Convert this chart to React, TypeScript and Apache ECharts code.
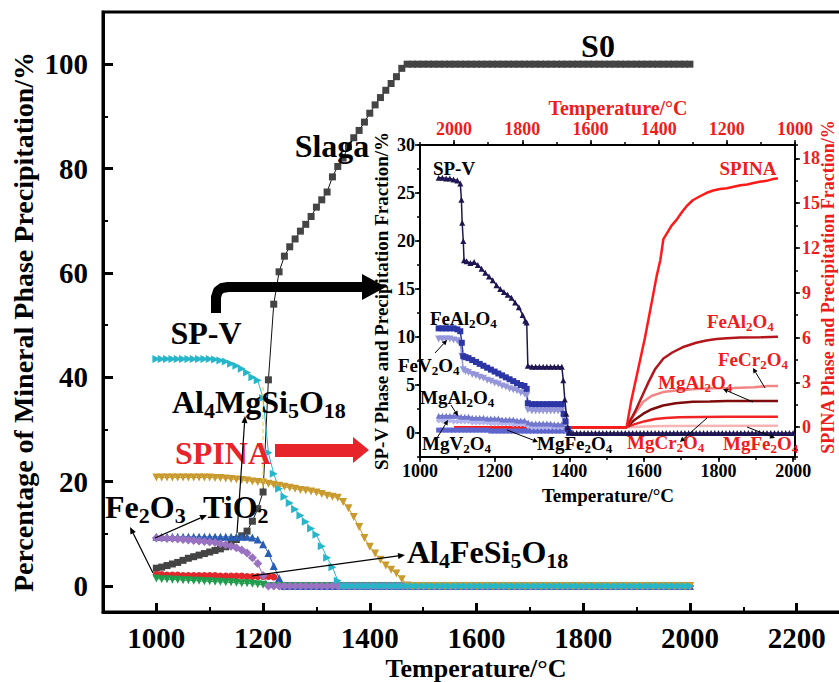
import React, { useEffect, useRef } from 'react';
import * as echarts from 'echarts';

const FONT = '"Liberation Serif", "Times New Roman", serif';
const RED = '#ee1c1c';

// ---------- main chart (bottom-left axes) ----------
const temps = [
  1000, 1010, 1020, 1030, 1040, 1050, 1060, 1070, 1080, 1090,
  1100, 1110, 1120, 1130, 1140, 1150, 1160, 1170, 1180, 1190,
  1200, 1210, 1220, 1230, 1240, 1250, 1260, 1270, 1280, 1290,
  1300, 1310, 1320, 1330, 1340, 1350, 1360, 1370, 1380, 1390,
  1400, 1410, 1420, 1430, 1440, 1450, 1460, 1470, 1480, 1490,
  1500, 1510, 1520, 1530, 1540, 1550, 1560, 1570, 1580, 1590,
  1600, 1610, 1620, 1630, 1640, 1650, 1660, 1670, 1680, 1690,
  1700, 1710, 1720, 1730, 1740, 1750, 1760, 1770, 1780, 1790,
  1800, 1810, 1820, 1830, 1840, 1850, 1860, 1870, 1880, 1890,
  1900, 1910, 1920, 1930, 1940, 1950, 1960, 1970, 1980, 1990,
  2000,
];

const slagValues = [
  3.4, 3.6, 3.9, 4.2, 4.5, 4.9, 5.3, 5.6, 5.9, 6.2,
  6.5, 6.8, 7.1, 7.5, 8.1, 8.9, 9.6, 10.5, 12.4, 14.8,
  18.0, 39.5, 54.0, 60.2, 63.2, 65.0, 66.5, 68.0, 69.3, 70.8,
  72.6, 74.0, 75.5, 78.4, 80.4, 82.0, 84.2, 85.9, 87.3, 88.9,
  90.6, 92.2, 93.6, 95.0, 96.3, 97.6, 99.2, 100, 100, 100,
  100, 100, 100, 100, 100, 100, 100, 100, 100, 100,
  100, 100, 100, 100, 100, 100, 100, 100, 100, 100,
  100, 100, 100, 100, 100, 100, 100, 100, 100, 100,
  100, 100, 100, 100, 100, 100, 100, 100, 100, 100,
  100, 100, 100, 100, 100, 100, 100, 100, 100, 100,
  100,
];

const redValues = [
  2.2, 2.2, 2.1, 2.1, 2.1, 2.0, 2.0, 2.0, 2.0, 2.0,
  2.0, 2.0, 1.9, 1.9, 1.9, 1.9, 1.9, 1.8, 1.8, 1.8,
  1.8, 1.8, 1.7, 0.6, 0, 0, 0, 0, 0, 0,
  0, 0, 0, 0, 0, 0, 0, 0, 0, 0,
  0, 0, 0, 0, 0, 0, 0, 0, 0, 0,
  0, 0, 0, 0, 0, 0, 0, 0, 0, 0,
  0, 0, 0, 0, 0, 0, 0, 0, 0, 0,
  0, 0, 0, 0, 0, 0, 0, 0, 0, 0,
  0, 0, 0, 0, 0, 0, 0, 0, 0, 0,
  0, 0, 0, 0, 0, 0, 0, 0, 0, 0,
  0,
];

const blueValues = [
  9.4, 9.4, 9.4, 9.4, 9.4, 9.4, 9.4, 9.4, 9.4, 9.4,
  9.4, 9.4, 9.4, 9.4, 9.4, 9.4, 9.4, 9.4, 9.3, 8.9,
  8.0, 6.3, 3.8, 1.5, 0, 0, 0, 0, 0, 0,
  0, 0, 0, 0, 0, 0, 0, 0, 0, 0,
  0, 0, 0, 0, 0, 0, 0, 0, 0, 0,
  0, 0, 0, 0, 0, 0, 0, 0, 0, 0,
  0, 0, 0, 0, 0, 0, 0, 0, 0, 0,
  0, 0, 0, 0, 0, 0, 0, 0, 0, 0,
  0, 0, 0, 0, 0, 0, 0, 0, 0, 0,
  0, 0, 0, 0, 0, 0, 0, 0, 0, 0,
  0,
];

const greenValues = [
  1.4, 1.3, 1.3, 1.2, 1.2, 1.1, 1.1, 1.0, 1.0, 0.9,
  0.9, 0.8, 0.8, 0.7, 0.7, 0.6, 0.5, 0.5, 0.4, 0.3,
  0.2, 0, 0, 0, 0, 0, 0, 0, 0, 0,
  0, 0, 0, 0, 0, 0, 0, 0, 0, 0,
  0, 0, 0, 0, 0, 0, 0, 0, 0, 0,
  0, 0, 0, 0, 0, 0, 0, 0, 0, 0,
  0, 0, 0, 0, 0, 0, 0, 0, 0, 0,
  0, 0, 0, 0, 0, 0, 0, 0, 0, 0,
  0, 0, 0, 0, 0, 0, 0, 0, 0, 0,
  0, 0, 0, 0, 0, 0, 0, 0, 0, 0,
  0,
];

const purpleValues = [
  9.2, 9.2, 9.1, 9.1, 9.0, 8.9, 8.8, 8.7, 8.6, 8.5,
  8.4, 8.3, 8.1, 7.9, 7.6, 7.3, 6.9, 6.3, 5.4, 4.3,
  2.0, 0, 0, 0, 0, 0, 0, 0, 0, 0,
  0, 0, 0, 0, 0, 0, 0, 0, 0, 0,
  0, 0, 0, 0, 0, 0, 0, 0, 0, 0,
  0, 0, 0, 0, 0, 0, 0, 0, 0, 0,
  0, 0, 0, 0, 0, 0, 0, 0, 0, 0,
  0, 0, 0, 0, 0, 0, 0, 0, 0, 0,
  0, 0, 0, 0, 0, 0, 0, 0, 0, 0,
  0, 0, 0, 0, 0, 0, 0, 0, 0, 0,
  0,
];

const goldValues = [
  20.8, 20.8, 20.8, 20.8, 20.8, 20.8, 20.8, 20.8, 20.8, 20.8,
  20.8, 20.7, 20.7, 20.6, 20.5, 20.4, 20.3, 20.2, 20.0, 19.9,
  19.8, 19.6, 19.4, 19.2, 19.0, 18.8, 18.6, 18.4, 18.3, 18.1,
  17.9, 17.6, 17.3, 17.1, 16.9, 16.1, 14.9, 13.2, 11.3, 9.2,
  7.5, 6.2, 5.0, 3.9, 3.1, 2.4, 1.3, 0.1, 0, 0,
  0, 0, 0, 0, 0, 0, 0, 0, 0, 0,
  0, 0, 0, 0, 0, 0, 0, 0, 0, 0,
  0, 0, 0, 0, 0, 0, 0, 0, 0, 0,
  0, 0, 0, 0, 0, 0, 0, 0, 0, 0,
  0, 0, 0, 0, 0, 0, 0, 0, 0, 0,
  0,
];

const cyanValues = [
  43.5, 43.5, 43.5, 43.5, 43.5, 43.5, 43.5, 43.5, 43.5, 43.5,
  43.5, 43.4, 43.2, 43.0, 42.6, 42.2, 41.6, 40.9, 40.0, 39.4,
  36.0, 25.5, 21.5, 18.6, 17.1, 15.9, 14.7, 13.5, 12.3, 11.0,
  9.8, 7.6, 5.4, 3.6, 1.0, 0, 0, 0, 0, 0,
  0, 0, 0, 0, 0, 0, 0, 0, 0, 0,
  0, 0, 0, 0, 0, 0, 0, 0, 0, 0,
  0, 0, 0, 0, 0, 0, 0, 0, 0, 0,
  0, 0, 0, 0, 0, 0, 0, 0, 0, 0,
  0, 0, 0, 0, 0, 0, 0, 0, 0, 0,
  0, 0, 0, 0, 0, 0, 0, 0, 0, 0,
  0,
];

// ---------- inset: SP-V phases (bottom x, left y) ----------
const spvData = [
  [1050, 26.6], [1060, 26.6], [1070, 26.5], [1080, 26.5], [1090, 26.4], [1100, 26.3], [1108, 26.0],
  [1111, 24.3], [1113, 21.9], [1116, 20.0], [1118, 18.0], [1125, 17.9], [1135, 17.7], [1145, 17.8],
  [1155, 17.5], [1165, 17.1], [1175, 16.7], [1185, 16.3], [1195, 15.9], [1205, 15.4], [1215, 15.0],
  [1225, 14.7], [1235, 14.4], [1245, 14.1], [1255, 13.6], [1265, 13.1], [1275, 12.3], [1282, 11.7],
  [1286, 11.5], [1289, 7.0], [1300, 6.9], [1310, 6.9], [1320, 6.9], [1330, 6.9], [1340, 6.9],
  [1350, 6.9], [1360, 6.9], [1370, 6.9], [1380, 6.9], [1384, 5.5], [1388, 3.5], [1392, 2.0],
  [1396, 0.6], [1400, 0.1], [1410, 0], [1420, 0], [1430, 0], [1440, 0], [1450, 0], [1460, 0],
  [1470, 0], [1480, 0], [1490, 0], [1500, 0], [1510, 0], [1520, 0], [1530, 0], [1540, 0],
  [1550, 0], [1560, 0], [1570, 0], [1580, 0], [1590, 0], [1600, 0], [1610, 0], [1620, 0],
  [1630, 0], [1640, 0], [1650, 0], [1660, 0], [1670, 0], [1680, 0], [1690, 0], [1700, 0],
  [1710, 0], [1720, 0], [1730, 0], [1740, 0], [1750, 0], [1760, 0], [1770, 0], [1780, 0],
  [1790, 0], [1800, 0], [1810, 0], [1820, 0], [1830, 0], [1840, 0], [1850, 0], [1860, 0],
  [1870, 0], [1880, 0], [1890, 0], [1900, 0], [1910, 0], [1920, 0], [1930, 0], [1940, 0],
  [1950, 0], [1960, 0], [1970, 0], [1980, 0], [1990, 0], [2000, 0],
];

const feAl2O4Data = [
  [1050, 10.9], [1060, 10.9], [1070, 10.9], [1080, 10.9], [1090, 10.9], [1100, 10.8], [1108, 10.6],
  [1112, 9.4], [1116, 8.0], [1122, 7.9], [1130, 7.8], [1140, 7.6], [1150, 7.4], [1160, 7.2],
  [1170, 7.0], [1180, 6.8], [1190, 6.6], [1200, 6.4], [1210, 6.2], [1220, 6.0], [1230, 5.8],
  [1240, 5.6], [1250, 5.4], [1260, 5.2], [1270, 5.0], [1280, 4.9], [1286, 4.6], [1289, 3.1],
  [1300, 3.0], [1310, 3.0], [1320, 3.0], [1330, 3.0], [1340, 3.0], [1350, 3.0], [1360, 3.0],
  [1370, 3.0], [1380, 3.0], [1385, 2.0], [1390, 1.2], [1396, 0.4], [1400, 0],
];

const feV2O4Data = [
  [1050, 9.8], [1060, 9.8], [1070, 9.8], [1080, 9.8], [1090, 9.7], [1100, 9.6], [1108, 9.3],
  [1112, 8.0], [1116, 6.6], [1122, 6.4], [1130, 6.3], [1140, 6.1], [1150, 6.0], [1160, 5.8],
  [1170, 5.7], [1180, 5.5], [1190, 5.4], [1200, 5.2], [1210, 5.1], [1220, 4.9], [1230, 4.8],
  [1240, 4.6], [1250, 4.5], [1260, 4.4], [1270, 4.2], [1280, 4.1], [1286, 3.9], [1289, 2.4],
  [1300, 2.3], [1310, 2.3], [1320, 2.3], [1330, 2.3], [1340, 2.3], [1350, 2.3], [1360, 2.3],
  [1370, 2.3], [1380, 2.3], [1385, 1.5], [1390, 0.8], [1396, 0.3], [1400, 0],
];

const mgAl2O4Data = [
  [1050, 1.8], [1060, 1.8], [1070, 1.8], [1080, 1.8], [1090, 1.8], [1100, 1.8], [1110, 1.7],
  [1120, 1.7], [1130, 1.7], [1140, 1.6], [1150, 1.6], [1160, 1.6], [1170, 1.6], [1180, 1.5],
  [1190, 1.5], [1200, 1.5], [1210, 1.5], [1220, 1.4], [1230, 1.4], [1240, 1.4], [1250, 1.4],
  [1260, 1.3], [1270, 1.3], [1280, 1.3], [1290, 1.1], [1300, 1.0], [1310, 1.0], [1320, 1.0],
  [1330, 1.0], [1340, 1.0], [1350, 1.0], [1360, 0.9], [1370, 0.9], [1380, 0.9], [1390, 0.5],
  [1400, 0],
];

const mgV2O4Data = [
  [1050, 1.3], [1060, 1.3], [1070, 1.3], [1080, 1.3], [1090, 1.2], [1100, 1.2], [1110, 1.2],
  [1120, 1.2], [1130, 1.2], [1140, 1.1], [1150, 1.1], [1160, 1.1], [1170, 1.1], [1180, 1.1],
  [1190, 1.0], [1200, 1.0], [1210, 1.0], [1220, 1.0], [1230, 1.0], [1240, 1.0], [1250, 0.9],
  [1260, 0.9], [1270, 0.9], [1280, 0.9], [1290, 0.7], [1300, 0.6], [1310, 0.6], [1320, 0.6],
  [1330, 0.6], [1340, 0.6], [1350, 0.6], [1360, 0.6], [1370, 0.6], [1380, 0.6], [1390, 0.3],
  [1400, 0],
];

const mgFe2O4Data = [
  [1050, 0.3], [1060, 0.3], [1070, 0.3], [1080, 0.3], [1090, 0.3], [1100, 0.3], [1110, 0.3],
  [1120, 0.3], [1130, 0.3], [1140, 0.3], [1150, 0.3], [1160, 0.3], [1170, 0.3], [1180, 0.3],
  [1190, 0.2], [1200, 0.2], [1210, 0.2], [1220, 0.2], [1230, 0.2], [1240, 0.2], [1250, 0.2],
  [1260, 0.2], [1270, 0.2], [1280, 0.2], [1290, 0.2], [1300, 0.2], [1310, 0.2], [1320, 0.2],
  [1330, 0.2], [1340, 0.2], [1350, 0.2], [1360, 0.2], [1370, 0.2], [1380, 0.2], [1390, 0.2],
  [1400, 0],
];

// ---------- inset: SPINA phases (top x reversed, right y) ----------
const spinaData = [
  [2000, 0], [1494, 0], [1480, 1.8], [1460, 3.9], [1440, 6.0], [1420, 8.4], [1406, 10.1],
  [1395, 11.2], [1386, 12.6], [1378, 12.9], [1362, 13.5], [1347, 13.9], [1332, 14.4],
  [1318, 14.8], [1300, 15.2], [1280, 15.45], [1259, 15.7], [1240, 15.85], [1220, 15.95],
  [1200, 16.0], [1180, 16.1], [1160, 16.2], [1140, 16.25], [1122, 16.35], [1100, 16.45],
  [1083, 16.5], [1068, 16.6], [1054, 16.65], [1050, 16.65],
];
const feAl2O4RedData = [
  [2000, 0], [1494, 0], [1470, 1.0], [1450, 2.0], [1430, 3.0], [1410, 3.9], [1386, 4.6],
  [1360, 5.0], [1330, 5.35], [1310, 5.5], [1290, 5.65], [1260, 5.8], [1230, 5.9],
  [1200, 5.95], [1160, 6.0], [1100, 6.02], [1050, 6.05],
];
const feCr2O4Data = [
  [2000, 0], [1494, 0], [1470, 0.9], [1445, 1.7], [1420, 2.1], [1387, 2.35], [1350, 2.45],
  [1290, 2.55], [1240, 2.6], [1180, 2.62], [1120, 2.68], [1080, 2.75], [1050, 2.75],
];
const mgAl2O4RedData = [
  [2000, 0], [1494, 0], [1470, 0.5], [1445, 0.9], [1420, 1.2], [1387, 1.45], [1350, 1.6],
  [1300, 1.7], [1250, 1.72], [1200, 1.75], [1050, 1.75],
];
const mgCr2O4Data = [
  [2000, 0], [1494, 0], [1470, 0.2], [1440, 0.4], [1410, 0.55], [1380, 0.62], [1340, 0.66],
  [1280, 0.68], [1200, 0.7], [1050, 0.7],
];
const mgFe2O4RedData = [
  [2000, 0], [1494, 0], [1440, 0.05], [1380, 0.08], [1050, 0.1],
];

// ---------- helpers ----------
function rt(x: number, y: number, text: string, size: number, color = '#000', align = 'left', rotation = 0) {
  const sub = Math.round(size * 0.68);
  return {
    type: 'text', x, y, rotation, z: 100,
    style: {
      text, fontSize: size, fontWeight: 'bold', fontFamily: FONT, fill: color,
      align, verticalAlign: 'middle',
      rich: {
        s: { fontSize: sub, fontWeight: 'bold', fontFamily: FONT, fill: color, padding: [Math.round(size * 0.5), 0, 0, 0] },
      },
    },
  };
}

function arrow(x1: number, y1: number, x2: number, y2: number, color = '#000', w = 1.2, hl = 7, hw = 3) {
  const a = Math.atan2(y2 - y1, x2 - x1);
  const bx = x2 - hl * Math.cos(a);
  const by = y2 - hl * Math.sin(a);
  const px = -Math.sin(a) * hw;
  const py = Math.cos(a) * hw;
  return [
    { type: 'line', z: 100, shape: { x1, y1, x2: bx, y2: by }, style: { stroke: color, lineWidth: w } },
    { type: 'polygon', z: 100, shape: { points: [[x2, y2], [bx + px, by + py], [bx - px, by - py]] }, style: { fill: color } },
  ];
}

const plain = (v: number) => String(v);
const lbl = (size: number, color = '#000', margin = 8, extra: any = {}) => ({
  show: true, color, fontSize: size, fontWeight: 'bold', fontFamily: FONT, margin, formatter: plain, ...extra,
});

function buildOption() {
  const mainDefs = [
    { name: 'Slag', values: slagValues, color: '#444444', line: '#111111', symbol: 'rect', rot: 0, size: 7 },
    { name: 'Al4FeSi5O18', values: redValues, color: '#e3262b', line: '#e3262b', symbol: 'circle', rot: 0, size: 7 },
    { name: 'Al4MgSi5O18', values: blueValues, color: '#2a5db5', line: '#2a5db5', symbol: 'triangle', rot: 0, size: 8 },
    { name: 'Fe2O3', values: greenValues, color: '#1f9d4c', line: '#1f9d4c', symbol: 'triangle', rot: 180, size: 8 },
    { name: 'TiO2', values: purpleValues, color: '#9a72c2', line: '#9a72c2', symbol: 'diamond', rot: 0, size: 9 },
    { name: 'SPINA-main', values: goldValues, color: '#c99a2e', line: '#c99a2e', symbol: 'triangle', rot: 180, size: 8 },
    { name: 'SP-V-main', values: cyanValues, color: '#25b7c9', line: '#25b7c9', symbol: 'triangle', rot: -90, size: 8 },
  ];
  const series: any[] = mainDefs.map((d) => ({
    type: 'line', name: d.name, xAxisIndex: 0, yAxisIndex: 0,
    data: temps.map((t, i) => [t, d.values[i]]),
    symbol: d.symbol, symbolSize: d.size, symbolRotate: d.rot, showSymbol: true,
    lineStyle: { color: d.line, width: 1 },
    itemStyle: { color: d.color, borderWidth: 0 },
  }));

  const insetDefs = [
    { name: 'MgFe2O4', data: mgFe2O4Data, color: '#5c66cc', symbol: 'rect', rot: 0, size: 5 },
    { name: 'MgV2O4', data: mgV2O4Data, color: '#b3b6ee', symbol: 'diamond', rot: 0, size: 6 },
    { name: 'MgAl2O4', data: mgAl2O4Data, color: '#7177cf', symbol: 'triangle', rot: 0, size: 6 },
    { name: 'FeV2O4', data: feV2O4Data, color: '#9597da', symbol: 'triangle', rot: 180, size: 7 },
    { name: 'FeAl2O4', data: feAl2O4Data, color: '#2c35a6', symbol: 'rect', rot: 0, size: 6 },
    { name: 'SP-V', data: spvData, color: '#1d1652', symbol: 'triangle', rot: 0, size: 6 },
  ];
  insetDefs.forEach((d) => series.push({
    type: 'line', name: d.name, xAxisIndex: 2, yAxisIndex: 2, data: d.data,
    symbol: d.symbol, symbolSize: d.size, symbolRotate: d.rot,
    lineStyle: { color: d.color, width: 1.5 }, itemStyle: { color: d.color, borderWidth: 0 },
  }));

  const redDefs = [
    { name: 'MgFe2O4-r', data: mgFe2O4RedData, color: '#f6b4b4' },
    { name: 'MgCr2O4-r', data: mgCr2O4Data, color: '#f02424' },
    { name: 'MgAl2O4-r', data: mgAl2O4RedData, color: '#7e0c0c' },
    { name: 'FeCr2O4-r', data: feCr2O4Data, color: '#f28585' },
    { name: 'FeAl2O4-r', data: feAl2O4RedData, color: '#b3161c' },
    { name: 'SPINA', data: spinaData, color: '#ff1a1a' },
  ];
  redDefs.forEach((d) => series.push({
    type: 'line', name: d.name, xAxisIndex: 4, yAxisIndex: 4, data: d.data,
    showSymbol: false, symbol: 'none', lineStyle: { color: d.color, width: 2.5 },
  }));

  const hidden = { show: false };
  const mainTick = (len: number, w: number) => ({ show: true, inside: true, length: len, lineStyle: { color: '#000', width: w } });
  const inTick = (len: number) => ({ show: true, inside: false, length: len, lineStyle: { color: '#000', width: 1.5 } });
  const mainLine = { show: true, onZero: false, lineStyle: { color: '#000', width: 3 } };
  const inLine = { show: true, onZero: false, lineStyle: { color: '#000', width: 2 } };
  const noLine = { show: false, onZero: false };

  const xAxis = [
    { type: 'value', gridIndex: 0, position: 'bottom', min: 900, max: 2300, minInterval: 200, maxInterval: 200,
      axisLine: mainLine, axisTick: mainTick(9, 3), splitLine: hidden,
      axisLabel: lbl(29, '#000', 11, { showMinLabel: false, showMaxLabel: false }) },
    { type: 'value', gridIndex: 0, position: 'bottom', min: 900, max: 2300, interval: 100,
      axisLine: noLine, axisTick: mainTick(5, 2), splitLine: hidden, axisLabel: hidden },
    { type: 'value', gridIndex: 1, position: 'bottom', min: 1000, max: 2005, interval: 200,
      axisLine: inLine, axisTick: inTick(5), splitLine: hidden,
      axisLabel: lbl(18, '#000', 5, { showMaxLabel: false }) },
    { type: 'value', gridIndex: 1, position: 'bottom', min: 1000, max: 2005, interval: 100,
      axisLine: noLine, axisTick: inTick(3), splitLine: hidden, axisLabel: hidden },
    { type: 'value', gridIndex: 1, position: 'top', min: 1000, max: 2100, interval: 200, inverse: true,
      axisLine: inLine, axisTick: inTick(5), splitLine: hidden,
      axisLabel: lbl(18, RED, 7, { showMaxLabel: false }) },
    { type: 'value', gridIndex: 1, position: 'top', min: 1000, max: 2100, interval: 100, inverse: true,
      axisLine: noLine, axisTick: inTick(3), splitLine: hidden, axisLabel: hidden },
  ];
  const yAxis = [
    { type: 'value', gridIndex: 0, position: 'left', min: -5, max: 110, minInterval: 20, maxInterval: 20,
      axisLine: mainLine, axisTick: mainTick(10, 3), splitLine: hidden,
      axisLabel: lbl(29, '#000', 15, { showMinLabel: false, showMaxLabel: false }) },
    { type: 'value', gridIndex: 0, position: 'left', min: -5, max: 110, minInterval: 10, maxInterval: 10,
      axisLine: noLine, axisTick: mainTick(5, 2), splitLine: hidden, axisLabel: hidden },
    { type: 'value', gridIndex: 1, position: 'left', min: -2.5, max: 30, minInterval: 5, maxInterval: 5,
      axisLine: inLine, axisTick: inTick(5), splitLine: hidden,
      axisLabel: lbl(18, '#000', 5, { showMinLabel: false }) },
    { type: 'value', gridIndex: 1, position: 'left', min: -2.5, max: 30, interval: 2.5,
      axisLine: noLine, axisTick: inTick(3), splitLine: hidden, axisLabel: hidden },
    { type: 'value', gridIndex: 1, position: 'right', min: -2, max: 18.9, minInterval: 3, maxInterval: 3,
      axisLine: inLine, axisTick: inTick(5), splitLine: hidden,
      axisLabel: lbl(18, RED, 7, { showMinLabel: false, showMaxLabel: false }) },
    { type: 'value', gridIndex: 1, position: 'right', min: -2, max: 18.9, minInterval: 1.5, maxInterval: 1.5,
      axisLine: noLine, axisTick: inTick(3), splitLine: hidden, axisLabel: hidden },
  ];

  const graphic: any[] = [
    // main titles
    rt(23, 322, 'Percentage of Mineral Phase Precipitation/%', 28, '#000', 'center', Math.PI / 2),
    rt(476, 668, 'Temperature/°C', 26, '#000', 'center'),
    // inset titles
    rt(381, 301, 'SP-V Phase and Precipitation Fraction/%', 19, '#000', 'center', Math.PI / 2),
    rt(828, 287, 'SPINA Phase and Precipitation Fraction/%', 18, RED, 'center', Math.PI / 2),
    rt(618, 108, 'Temperature/°C', 20, RED, 'center'),
    rt(608, 495, 'Temperature/°C', 19, '#000', 'center'),
    // main annotations
    rt(598, 46, 'S0', 32, '#000', 'center'),
    rt(332, 146, 'Slaga', 32, '#000', 'center'),
    rt(206, 333, 'SP-V', 32, '#000', 'center'),
    rt(172, 402, 'Al{s|4}MgSi{s|5}O{s|18}', 32),
    rt(223, 453, 'SPINA', 32, '#e8242b', 'center'),
    rt(105, 507, 'Fe{s|2}O{s|3}', 32),
    rt(203, 507, 'TiO{s|2}', 32),
    rt(407, 552, 'Al{s|4}FeSi{s|5}O{s|18}', 32),
    // inset annotations
    rt(454, 168, 'SP-V', 19, '#000', 'center'),
    rt(430, 318, 'FeAl{s|2}O{s|4}', 19),
    rt(398, 365, 'FeV{s|2}O{s|4}', 19),
    rt(420, 397, 'MgAl{s|2}O{s|4}', 19),
    rt(422, 443, 'MgV{s|2}O{s|4}', 19),
    rt(537, 443, 'MgFe{s|2}O{s|4}', 19),
    rt(748, 168, 'SPINA', 19, RED, 'center'),
    rt(707, 321, 'FeAl{s|2}O{s|4}', 19, RED),
    rt(718, 359, 'FeCr{s|2}O{s|4}', 19, RED),
    rt(658, 382, 'MgAl{s|2}O{s|4}', 19, RED),
    rt(627, 442, 'MgCr{s|2}O{s|4}', 19, RED),
    rt(723, 443, 'MgFe{s|2}O{s|4}', 19, RED),
    // red block arrow
    { type: 'polygon', z: 100, shape: { points: [[275, 444], [353, 444], [353, 437], [369, 450], [353, 463], [353, 457], [275, 457]] }, style: { fill: '#e8242b' } },
    // black bent arrow
    { type: 'polyline', z: 100, shape: { points: [[216, 313], [216, 297], [218, 291], [222, 288], [228, 287], [366, 287]] },
      style: { stroke: '#000', lineWidth: 10, lineJoin: 'round', fill: null } },
    { type: 'polygon', z: 100, shape: { points: [[362, 274], [386, 287], [362, 300]] }, style: { fill: '#000' } },
    // yellow dashed drop line
    { type: 'line', z: 90, shape: { x1: 263, y1: 387, x2: 263, y2: 488 }, style: { stroke: '#e6d21e', lineWidth: 1, lineDash: [4, 3] } },
    // thin arrows main
    ...arrow(237, 533, 245, 416),
    ...arrow(153, 573, 130, 527),
    ...arrow(155, 538, 207, 515),
    ...arrow(252, 576, 405, 555),
    // thin arrows inset
    ...arrow(435, 353, 447, 340, '#000', 1, 5, 2.5),
    ...arrow(451, 405, 458, 416, '#000', 1, 5, 2.5),
    ...arrow(437, 438, 448, 420, '#000', 1, 5, 2.5),
    ...arrow(507, 430, 538, 442, '#000', 1, 5, 2.5),
    ...arrow(765, 388, 753, 368, '#000', 1, 5, 2.5),
    ...arrow(753, 402, 723, 389, '#000', 1, 5, 2.5),
    ...arrow(707, 418, 680, 442, '#000', 1, 5, 2.5),
    ...arrow(747, 427, 775, 438, '#000', 1, 5, 2.5),
  ];

  return {
    animation: false,
    backgroundColor: '#ffffff',
    grid: [
      { left: 103, top: 12, width: 747, height: 600, show: true, borderColor: '#000', borderWidth: 3, backgroundColor: 'transparent', containLabel: false, outerBoundsMode: 'none' },
      { left: 420, top: 145, width: 375, height: 312, show: false, containLabel: false, outerBoundsMode: 'none' },
    ],
    xAxis, yAxis, series, graphic,
  };
}

export default function App() {
  const ref = useRef<HTMLDivElement>(null);
  useEffect(() => {
    if (!ref.current) return;
    const chart = echarts.init(ref.current, null, { renderer: 'svg' });
    chart.setOption(buildOption() as any);
    return () => chart.dispose();
  }, []);
  return (
    <div
      ref={ref}
      style={{ position: 'absolute', left: 0, top: 0, width: 839, height: 682, background: '#fff' }}
    />
  );
}
